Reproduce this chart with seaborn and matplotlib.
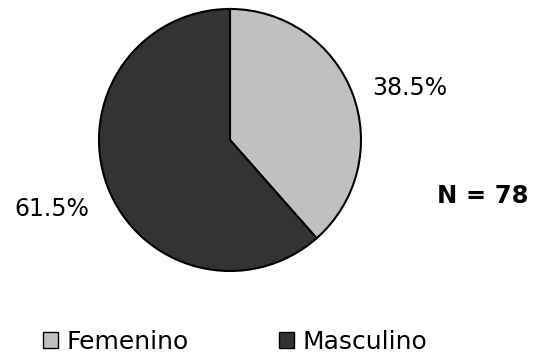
import numpy as np
import matplotlib
matplotlib.use("Agg")
import matplotlib.pyplot as plt
import seaborn as sns
from matplotlib.patches import Patch

categories = ["Femenino", "Masculino"]
percentages = [38.5, 61.5]
total_n = 78

sns.set_theme(style="white")
plt.rcParams["font.family"] = ["DejaVu Sans"]
plt.rcParams["text.color"] = "black"
colors = sns.color_palette(["#c0c0c0", "#333333"])

fig = plt.figure(figsize=(5.38, 3.58), dpi=100)
ax = fig.add_axes([0.184, 0.243, 0.487, 0.732])

wedges, texts, autotexts = ax.pie(
    percentages,
    colors=colors,
    startangle=90,
    counterclock=False,
    autopct="%.1f%%",
    pctdistance=1.45,
    wedgeprops=dict(edgecolor="black", linewidth=1.5),
    textprops=dict(fontsize=17, color="black"),
)

# label placement: radial distance and angular nudge for each percentage label
label_dist = [1.43, 1.46]
label_shift = [-4.5, 0.5]
for w, t, d, s in zip(wedges, autotexts, label_dist, label_shift):
    mid = np.deg2rad((w.theta1 + w.theta2) / 2 + s)
    t.set_position((d * np.cos(mid), d * np.sin(mid)))

ax.set_xlim(-1, 1)
ax.set_ylim(-1, 1)
ax.set_aspect("equal")
ax.axis("off")

fig.text(0.898, 0.453, f"N = {total_n}", ha="center", va="center",
         fontsize=17.5, fontweight="bold", color="black")

handles = [Patch(facecolor=c, edgecolor="black", linewidth=1.0) for c in colors]
fig.legend(handles, categories, loc="center", bbox_to_anchor=(0.437, 0.045),
           ncol=2, frameon=False, fontsize=18, handlelength=0.6,
           handleheight=0.6, handletextpad=0.35, columnspacing=3.6,
           borderaxespad=0, labelcolor="black")

fig.savefig("out.png", dpi=100)
